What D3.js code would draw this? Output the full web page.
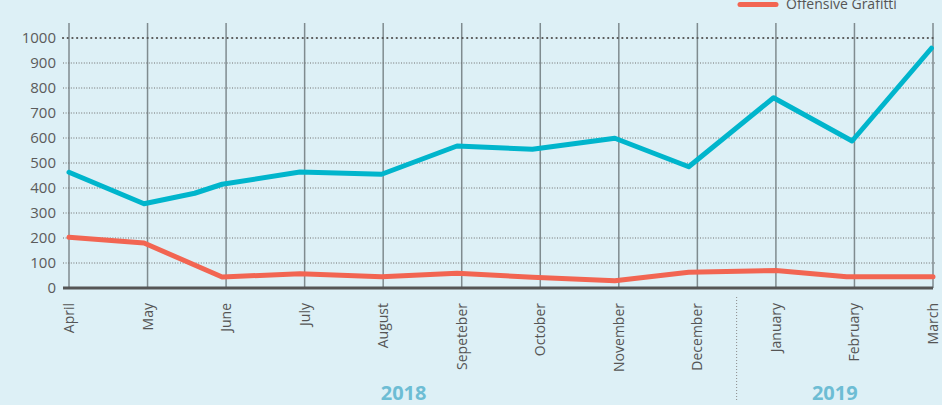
<!DOCTYPE html>
<html>
<head>
<meta charset="utf-8">
<script src="https://cdn.jsdelivr.net/npm/d3@7"></script>
<style>
    html, body { margin: 0; padding: 0; background: #ddf0f6; }
    svg { display: block; font-family: 'Open Sans', sans-serif; }
</style>
</head>
<body>
<svg id="chart" width="942" height="405"></svg>
<script>
// months on the x axis (labels as printed)
var months = ['April', 'May', 'June', 'July', 'August', 'Sepeteber', 'October', 'November', 'December', 'January', 'February', 'March'];
var yTicks = [0, 100, 200, 300, 400, 500, 600, 700, 800, 900, 1000];

// blue series, position in months from April
var allPos = [0, 0.955, 1.6, 1.95, 2.94, 3.98, 4.94, 5.9, 6.95, 7.89, 8.97, 9.97, 10.98];
var allVals = [463, 337, 379, 415, 464, 455, 568, 555, 599, 485, 761, 588, 959];

// offensive graffiti
var offPos = [0, 0.955, 1.95, 2.94, 3.98, 4.94, 5.9, 6.95, 7.89, 9.0, 9.9, 11];
var offVals = [203, 180, 44, 57, 45, 59, 43, 29, 63, 70, 45, 45];

var years = [{ label: '2018', at: 4.26 }, { label: '2019', at: 9.75 }];
var yearBreak = 8.5;

var blue = '#00b5cc';
var red = '#f26552';

var svg = d3.select('#chart');

var x = d3.scalePoint().domain(months).range([69, 933]);
var xl = d3.scaleLinear().domain([0, months.length - 1]).range([69, 933]);
var y = d3.scaleLinear().domain([0, 1000]).range([288, 38]);

// vertical grid
svg.append('g').selectAll('line').data(months).enter().append('line')
    .attr('x1', function (d) { return x(d); }).attr('x2', function (d) { return x(d); })
    .attr('y1', 23).attr('y2', y(0))
    .attr('stroke', '#7f8b8f').attr('stroke-width', 1.5);

// horizontal dotted grid
svg.append('g').selectAll('line').data(yTicks.filter(function (d) { return d > 0; })).enter().append('line')
    .attr('x1', 63).attr('x2', 935)
    .attr('y1', function (d) { return y(d); }).attr('y2', function (d) { return y(d); })
    .attr('stroke', function (d) { return d == 1000 ? '#555' : '#6f6f6f'; })
    .attr('stroke-width', function (d) { return d == 1000 ? 2.2 : 1; })
    .attr('stroke-linecap', function (d) { return d == 1000 ? 'round' : 'butt'; })
    .attr('stroke-dasharray', function (d) { return d == 1000 ? '0.1,4.6' : '1,1.6'; });

// y labels
svg.append('g').selectAll('text').data(yTicks).enter().append('text')
    .attr('x', 56).attr('y', function (d) { return y(d); }).attr('dy', '0.36em')
    .attr('text-anchor', 'end').attr('font-size', '15px').attr('fill', '#5b5b5b')
    .text(function (d) { return d; });

// baseline
svg.append('line').attr('x1', 63).attr('x2', 933).attr('y1', y(0)).attr('y2', y(0))
    .attr('stroke', '#555').attr('stroke-width', 3);

// month labels
svg.append('g').selectAll('text').data(months).enter().append('text')
    .attr('transform', function (d) { return 'translate(' + (x(d) + 5) + ',303) rotate(-90)'; })
    .attr('text-anchor', 'end').attr('font-size', '14px').attr('fill', '#555')
    .text(function (d) { return d; });

// year divider + labels
svg.append('line').attr('x1', xl(yearBreak)).attr('x2', xl(yearBreak)).attr('y1', 297).attr('y2', 400)
    .attr('stroke', '#8a8a8a').attr('stroke-width', 1).attr('stroke-dasharray', '1,2');

svg.append('g').selectAll('text').data(years).enter().append('text')
    .attr('x', function (d) { return xl(d.at); }).attr('y', 400)
    .attr('text-anchor', 'middle').attr('font-size', '20px').attr('font-weight', 'bold').attr('fill', '#6dbdd4')
    .text(function (d) { return d.label; });

// series
var line = d3.line().x(function (d) { return xl(d[0]); }).y(function (d) { return y(d[1]); });

svg.append('path').datum(d3.zip(offPos, offVals)).attr('d', line)
    .attr('fill', 'none').attr('stroke', red).attr('stroke-width', 5)
    .attr('stroke-linejoin', 'round').attr('stroke-linecap', 'round');

svg.append('path').datum(d3.zip(allPos, allVals)).attr('d', line)
    .attr('fill', 'none').attr('stroke', blue).attr('stroke-width', 5)
    .attr('stroke-linejoin', 'round').attr('stroke-linecap', 'round');

// legend (only the lower entry is in view)
svg.append('line').attr('x1', 740).attr('x2', 776).attr('y1', 4.5).attr('y2', 4.5)
    .attr('stroke', red).attr('stroke-width', 5).attr('stroke-linecap', 'round');
svg.append('text').attr('x', 786).attr('y', 9).attr('font-size', '14px').attr('fill', '#555')
    .text('Offensive Grafitti');
</script>
</body>
</html>
